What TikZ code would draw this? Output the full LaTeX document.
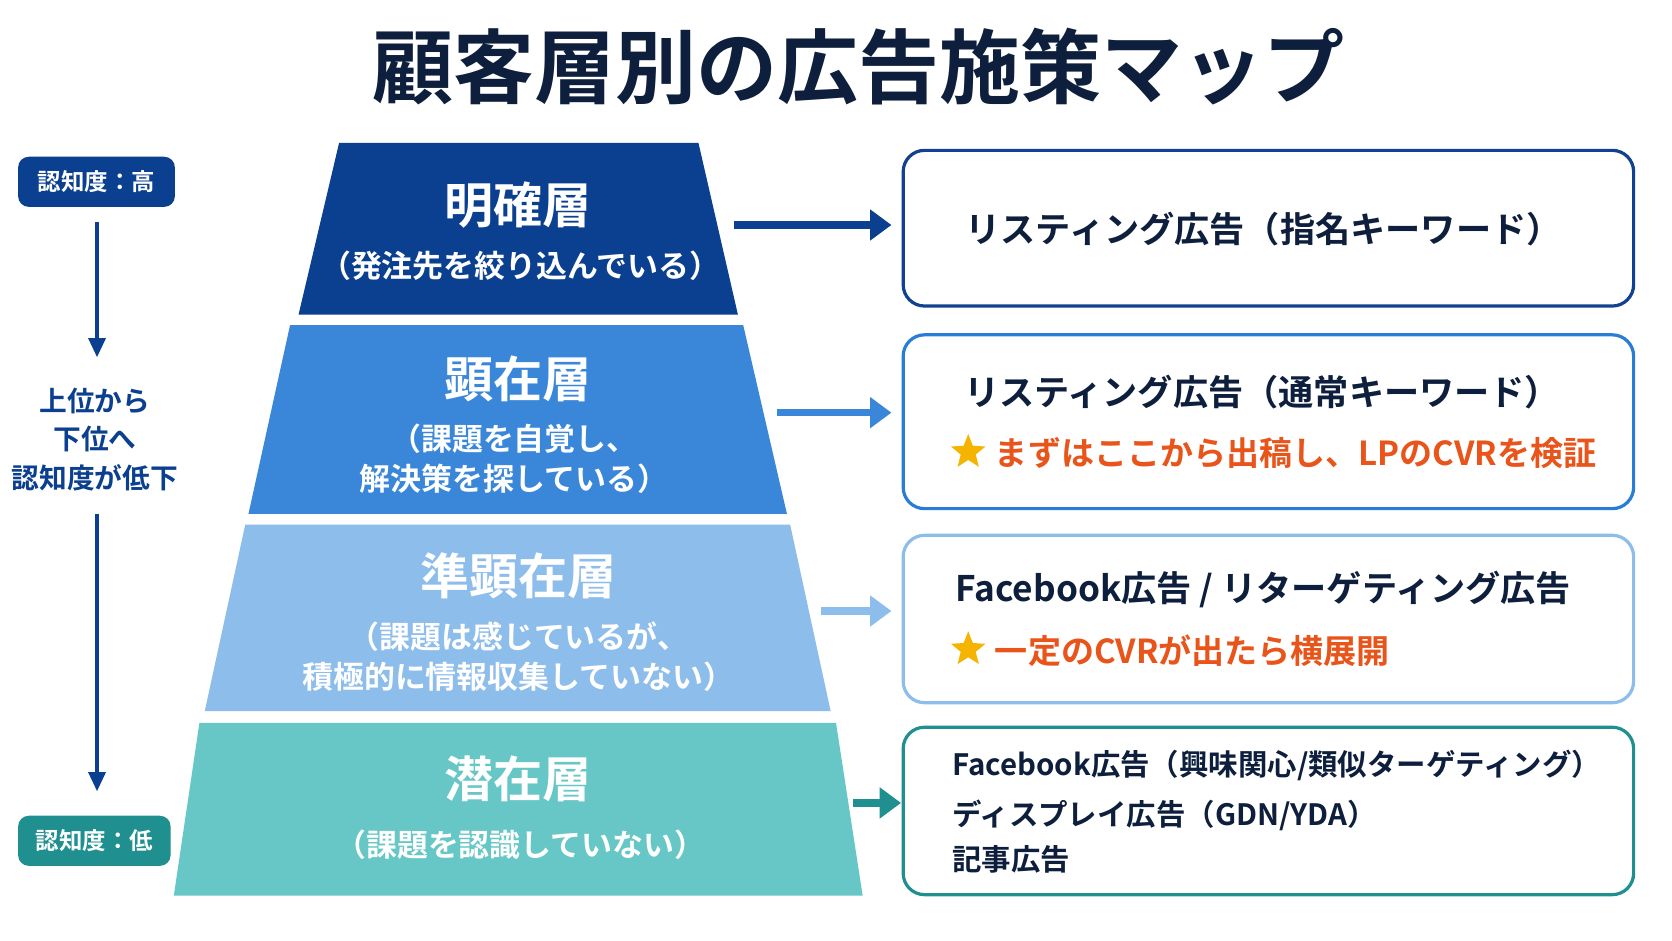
\documentclass[tikz,border=0pt]{standalone}
\usepackage{fontspec}
\setmainfont{Noto Sans CJK JP}[BoldFont={* Bold}]
\usetikzlibrary{shapes.geometric,arrows.meta}
\definecolor{navy}{HTML}{0D1F3C}
\definecolor{c1}{HTML}{0B3F8F}
\definecolor{c2}{HTML}{3A87D9}
\definecolor{c3}{HTML}{8DBDEB}
\definecolor{c4}{HTML}{67C6C6}
\definecolor{t4}{HTML}{1F8F8F}
\definecolor{bd1}{HTML}{12418F}
\definecolor{bd2}{HTML}{2A7DD6}
\definecolor{org}{HTML}{E8541A}
\definecolor{stc}{HTML}{F5B400}
\begin{document}
\begin{tikzpicture}[x=0.5pt,y=-0.5pt,font=\bfseries,
  badge/.style={rounded corners=5pt,text=white,font=\bfseries\fontsize{11}{13}\selectfont,minimum height=23.5pt,inner sep=0pt},
  lt/.style={text=white,font=\bfseries\fontsize{23}{26}\selectfont},
  ls/.style={text=white,font=\bfseries\fontsize{14.5}{19}\selectfont,align=center},
  box/.style={line width=1.5pt,rounded corners=10pt,fill=white},
  bt/.style={font=\bfseries\fontsize{16.5}{18}\selectfont,text=navy,anchor=west},
  st/.style={font=\bfseries\fontsize{15.5}{18}\selectfont,text=org,anchor=west},
  bt4/.style={font=\bfseries\fontsize{13.8}{16}\selectfont,text=navy,anchor=west},
  arr/.style={line width=3.5pt,-{Triangle[length=10pt,width=14pt]}},
  ystar/.style={star,star points=5,star point ratio=2.3,fill=stc,minimum size=17pt,inner sep=0pt}]
\useasboundingbox (0,0) rectangle (1568,882);
\fill[white] (0,0) rectangle (1568,882);
\node[text=navy,font=\bfseries\fontsize{38}{42}\selectfont] (title) at (805,62) {顧客層別の広告施策マップ};
% left
\node[badge,fill=c1,minimum width=73.5pt] (hi) at (90.5,170.5) {認知度：高};
\node[badge,fill=t4,minimum width=71.5pt] (lo) at (88.5,788.5) {認知度：低};
\node[text=c1,font=\bfseries\fontsize{13}{18}\selectfont,align=center] (mid) at (89,412) {上位から\\下位へ\\認知度が低下};
\coordinate (a1) at (91,208); \coordinate (a2) at (91,335);
\coordinate (a3) at (91,482); \coordinate (a4) at (91,742);
\draw[c1,line width=1.6pt,-{Triangle[length=9pt,width=8pt]}] (a1)--(a2);
\draw[c1,line width=1.6pt,-{Triangle[length=9pt,width=8pt]}] (a3)--(a4);
% pyramid
\fill[c1] (318,134)--(655,134)--(692,295)--(280,295)--cycle;
\fill[c2] (272,305)--(697,305)--(738,482)--(233,482)--cycle;
\fill[c3] (230,492)--(741,492)--(779,667)--(192,667)--cycle;
\fill[c4] (187,678)--(784,678)--(809,840)--(163,840)--cycle;
\node[lt] (p1) at (486,192) {明確層};
\node[ls] (q1) at (488,249) {（発注先を絞り込んでいる）};
\node[lt] (p2) at (486,355) {顕在層};
\node[ls] (q2) at (482,430) {（課題を自覚し、\\解決策を探している）};
\node[lt] (p3) at (486,540) {準顕在層};
\node[ls] (q3) at (486,616) {（課題は感じているが、\\積極的に情報収集していない）};
\node[lt] (p4) at (486,730) {潜在層};
\node[ls] (q4) at (488,792) {（課題を認識していない）};
% boxes
\draw[box,draw=bd1] (847,141) rectangle (1532,287);
\draw[box,draw=bd2] (847,314) rectangle (1532,477);
\draw[box,draw=c3] (847,502) rectangle (1532,659);
\draw[box,draw=t4] (847,682) rectangle (1532,839);
\coordinate (b1) at (836,211); \coordinate (b2) at (836,387);
\coordinate (b3) at (836,573); \coordinate (b4) at (845,753);
\coordinate (s1) at (688,211); \coordinate (s2) at (729,387);
\coordinate (s3) at (770,573); \coordinate (s4) at (800,753);
\draw[arr,c1] (s1)--(b1);
\draw[arr,c2] (s2)--(b2);
\draw[arr,c3] (s3)--(b3);
\draw[arr,t4] (s4)--(b4);
\node[font=\bfseries\fontsize{16.5}{18}\selectfont,text=navy] (r1) at (1185,215) {リスティング広告（指名キーワード）};
\node[bt] (r2) at (897,368) {リスティング広告（通常キーワード）};
\node[ystar] (st2) at (908,424) {};
\node[st] (r2b) at (926,425) {まずはここから出稿し、LPのCVRを検証};
\node[bt] (r3) at (889,553) {Facebook広告 / リターゲティング広告};
\node[ystar] (st3) at (908,609) {};
\node[st] (r3b) at (926,610) {一定のCVRが出たら横展開};
\node[bt4] (r4a) at (886,718) {Facebook広告（興味関心/類似ターゲティング）};
\node[bt4] (r4b) at (886,765) {ディスプレイ広告（GDN/YDA）};
\node[bt4] (r4c) at (886,806) {記事広告};
\end{tikzpicture}
\end{document}
